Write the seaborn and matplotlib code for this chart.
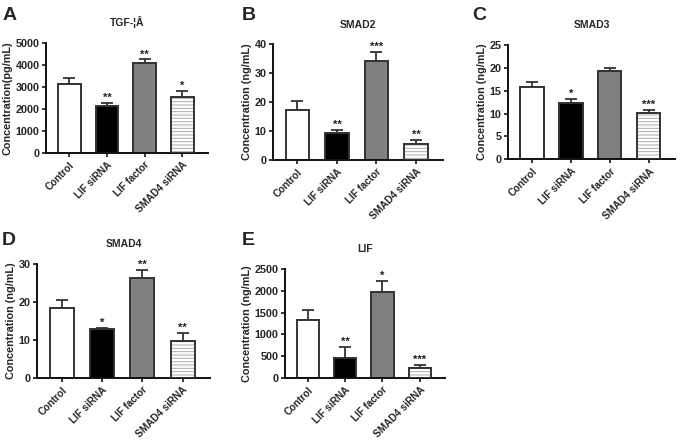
import matplotlib
matplotlib.use('Agg')
import matplotlib.pyplot as plt
import matplotlib.patches as mpatches
import seaborn as sns

# --------------------------
# DATA
# --------------------------
groups = ['Control', 'LIF siRNA', 'LIF factor', 'SMAD4 siRNA']

tgf_vals = [3150, 2130, 4080, 2520]
tgf_err = [270, 130, 170, 280]
tgf_sig = ['', '**', '**', '*']

smad2_vals = [17.3, 9.2, 34.2, 5.6]
smad2_err = [3.2, 1.2, 3.1, 1.4]
smad2_sig = ['', '**', '***', '**']

smad3_vals = [15.8, 12.2, 19.3, 10.1]
smad3_err = [1.0, 1.0, 0.6, 0.6]
smad3_sig = ['', '*', '', '***']

smad4_vals = [18.5, 12.8, 26.2, 9.8]
smad4_err = [1.9, 0.3, 2.3, 2.1]
smad4_sig = ['', '*', '**', '**']

lif_vals = [1320, 460, 1980, 240]
lif_err = [250, 250, 240, 60]
lif_sig = ['', '**', '*', '***']

bar_colors = ['white', 'black', '#808080', 'white']

sns.set_style('ticks')
plt.rcParams['font.family'] = ['Liberation Sans', 'DejaVu Sans']
plt.rcParams['font.weight'] = 'bold'
plt.rcParams['hatch.color'] = '#aaaaaa'
plt.rcParams['hatch.linewidth'] = 0.7

EDGE = '#333333'

fig = plt.figure(figsize=(6.85, 4.42), dpi=100)

# panel: letter, title, ylabel, values, errors, stars, ymax, step, axes rect, letter pos
panels = [
    ('A', 'TGF-¦Â', 'Concentration(pg/mL)', tgf_vals, tgf_err, tgf_sig, 5000, 1000,
     [0.067, 0.654, 0.2365, 0.249], (0.003, 0.965)),
    ('B', 'SMAD2', 'Concentration (ng/mL)', smad2_vals, smad2_err, smad2_sig, 40, 10,
     [0.3985, 0.638, 0.248, 0.262], (0.353, 0.965)),
    ('C', 'SMAD3', 'Concentration (ng/mL)', smad3_vals, smad3_err, smad3_sig, 25, 5,
     [0.7416, 0.640, 0.244, 0.258], (0.689, 0.965)),
    ('D', 'SMAD4', 'Concentration (ng/mL)', smad4_vals, smad4_err, smad4_sig, 30, 10,
     [0.054, 0.1448, 0.2526, 0.258], (0.003, 0.455)),
    ('E', 'LIF', 'Concentration (ng/mL)', lif_vals, lif_err, lif_sig, 2500, 500,
     [0.416, 0.1448, 0.2336, 0.2466], (0.353, 0.455)),
]

for letter, title, ylab, vals, errs, sig, ymax, step, rect, lpos in panels:
    ax = fig.add_axes(rect)
    sns.barplot(x=groups, y=vals, hue=groups, palette=bar_colors, legend=False,
                width=0.6, edgecolor=EDGE, linewidth=1.4, ax=ax, zorder=2)

    # striped bar: light hatch inside, dark outline on top
    p = ax.patches[3]
    p.set_hatch('-----')
    if hasattr(p, 'set_hatchcolor'):
        p.set_hatchcolor('#aaaaaa')
    else:
        p.set_edgecolor('#aaaaaa')
        p.set_linewidth(0)
        ax.add_patch(mpatches.Rectangle(p.get_xy(), p.get_width(), p.get_height(),
                                        fill=False, edgecolor=EDGE, linewidth=1.4, zorder=3))

    ax.errorbar(range(4), vals, yerr=[[0] * 4, errs], fmt='none', ecolor=EDGE,
                elinewidth=1.3, capsize=4, capthick=1.3, zorder=1)
    for i, s in enumerate(sig):
        if s:
            ax.text(i, vals[i] + errs[i], s, ha='center', va='bottom',
                    fontsize=8, fontweight='bold', color='#222222')
    ax.set_xlim(-0.62, 3.68)
    ax.set_ylim(0, ymax)
    ax.set_yticks(range(0, ymax + 1, step))
    ax.set_ylabel(ylab, fontsize=7.8, fontweight='bold', labelpad=2)
    ax.set_title(title, fontsize=7.5, fontweight='bold', pad=12)
    ax.set_xticks(range(4))
    ax.set_xticklabels(groups, rotation=45, ha='right', rotation_mode='anchor',
                       fontsize=7.2, fontweight='bold')
    ax.tick_params(axis='y', labelsize=7.8, length=3, width=1.3, pad=1.5)
    ax.tick_params(axis='x', length=3, width=1.3, pad=2)
    sns.despine(ax=ax)
    for sp in ['left', 'bottom']:
        ax.spines[sp].set_linewidth(1.4)
        ax.spines[sp].set_color('#111111')
    fig.text(lpos[0], lpos[1], letter, fontsize=14, fontweight='bold', va='center')

plt.savefig('out.png', dpi=100)
plt.close(fig)
